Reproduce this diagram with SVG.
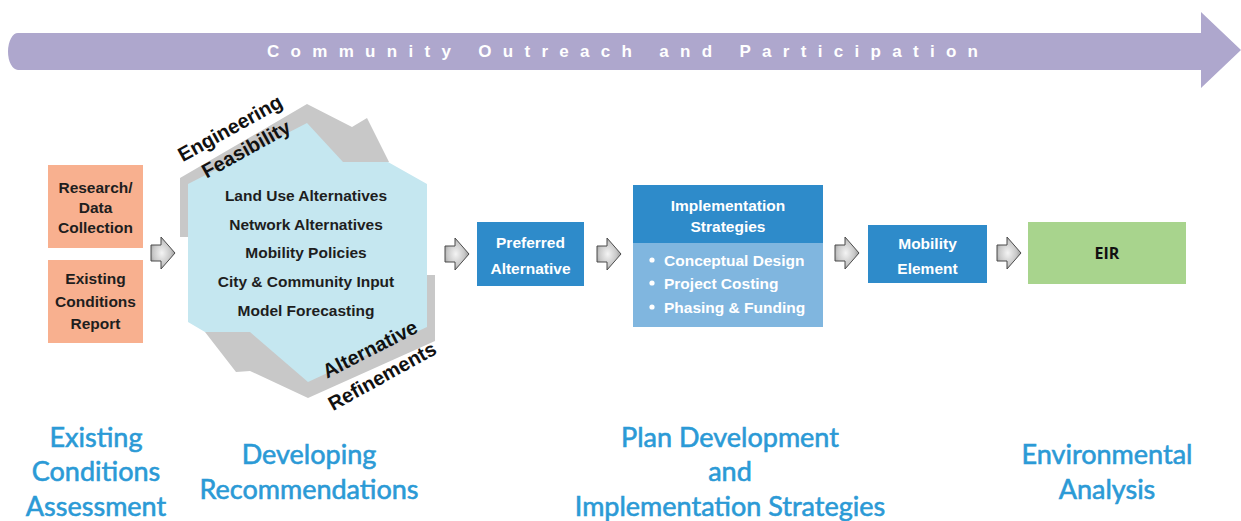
<svg xmlns="http://www.w3.org/2000/svg" width="1241" height="521" viewBox="0 0 1241 521">
<style>
.bt{font-family:"Liberation Sans",Arial,sans-serif;font-weight:bold;font-size:15.5px;text-anchor:middle;dominant-baseline:central}
.dk{fill:#1e1e1e}
.wh{fill:#ffffff}
.ttl{font-family:Lato,"Open Sans",sans-serif;font-size:27px;fill:#2b9ad6;stroke:#2b9ad6;stroke-width:0.6px;text-anchor:middle}
.arl{font-family:"Liberation Sans",Arial,sans-serif;font-weight:bold;font-size:20px;fill:#111;text-anchor:middle;dominant-baseline:central}
.blk{fill:url(#ag);stroke:#4a4a4a;stroke-width:1}
.st{text-anchor:start}
</style>
<defs>
<radialGradient id="ag" cx="0.45" cy="0.5" r="0.6">
<stop offset="0" stop-color="#f4f4f4"/>
<stop offset="0.6" stop-color="#c8c8c8"/>
<stop offset="1" stop-color="#8a8a8a"/>
</radialGradient>
<path id="blkarrow" class="blk" d="M0,-8 H10 V-16 L24,0 L10,16 V8 H0 Z"/>
</defs>
<rect width="1241" height="521" fill="#ffffff"/>

<g id="outreach">
<path d="M18,33 H1201 V12 L1241,50 L1201,88 V70 H18 A10 18.5 0 0 1 18,33 Z" fill="#aea7cd"/>
<text x="267" y="57" font-family="Liberation Sans,Arial,sans-serif" font-weight="bold" font-size="17" fill="#ffffff" textLength="711" lengthAdjust="spacing">Community Outreach and Participation</text>
</g>

<g id="research">
<rect x="48" y="165" width="95" height="83" fill="#f8b08f"/>
<text class="bt dk" x="95.5" y="187">Research/</text>
<text class="bt dk" x="95.5" y="207">Data</text>
<text class="bt dk" x="95.5" y="227">Collection</text>
</g>

<g id="existing-report">
<rect x="48" y="260" width="95" height="83" fill="#f8b08f"/>
<text class="bt dk" x="95.5" y="278">Existing</text>
<text class="bt dk" x="95.5" y="301">Conditions</text>
<text class="bt dk" x="95.5" y="323">Report</text>
</g>

<g id="alternatives-cycle">
<path d="M180,237 L180,178 L307,104 L352,127 L367,118 L389,162 L330,170 L200,237 Z" fill="#c8c8c8"/>
<path d="M427,275 L435,275 L435,341 L308,398 L250,371 L236,372 L205,332 L260,320 L420,270 Z" fill="#c8c8c8"/>
<path d="M188,184 L307,123 L343,162 L388,162 L427,184 L427,327 L308,382 L250,332 L205,332 L188,322 Z" fill="#c5e7f0"/>
<text class="bt dk" x="306" y="195">Land Use Alternatives</text>
<text class="bt dk" x="306" y="224">Network Alternatives</text>
<text class="bt dk" x="306" y="252">Mobility Policies</text>
<text class="bt dk" x="306" y="281">City &amp; Community Input</text>
<text class="bt dk" x="306" y="310">Model Forecasting</text>
<text class="arl" transform="translate(230,128) rotate(-29)">Engineering</text>
<text class="arl" transform="translate(246,149) rotate(-29)">Feasibility</text>
<text class="arl" transform="translate(370,349) rotate(-27)">Alternative</text>
<text class="arl" transform="translate(382,376) rotate(-29)">Refinements</text>
</g>

<g id="preferred">
<rect x="477" y="222" width="107" height="64" fill="#2e8bca"/>
<text class="bt wh" x="530.5" y="242">Preferred</text>
<text class="bt wh" x="530.5" y="268">Alternative</text>
</g>

<g id="implementation">
<rect x="633" y="185" width="190" height="58" fill="#2e8bca"/>
<rect x="633" y="243" width="190" height="84" fill="#80b6df"/>
<text class="bt wh" x="728" y="205" font-size="15">Implementation</text>
<text class="bt wh" x="728" y="226" font-size="15">Strategies</text>
<circle cx="652" cy="260" r="2.6" fill="#ffffff"/>
<circle cx="652" cy="283" r="2.6" fill="#ffffff"/>
<circle cx="652" cy="307" r="2.6" fill="#ffffff"/>
<text class="bt wh st" x="664" y="260">Conceptual Design</text>
<text class="bt wh st" x="664" y="283">Project Costing</text>
<text class="bt wh st" x="664" y="307">Phasing &amp; Funding</text>
</g>

<g id="mobility">
<rect x="868" y="225" width="119" height="58" fill="#2e8bca"/>
<text class="bt wh" x="927.5" y="243">Mobility</text>
<text class="bt wh" x="927.5" y="268">Element</text>
</g>

<g id="eir">
<rect x="1028" y="222" width="158" height="62" fill="#a8d48d"/>
<text x="1107" y="253" font-family="Open Sans,Liberation Sans,sans-serif" font-weight="bold" font-size="16" fill="#111" text-anchor="middle" dominant-baseline="central">EIR</text>
</g>

<g id="connectors">
<use href="#blkarrow" x="151" y="253"/>
<use href="#blkarrow" x="445" y="254"/>
<use href="#blkarrow" x="597" y="254"/>
<use href="#blkarrow" x="835" y="253"/>
<use href="#blkarrow" x="997" y="253"/>
</g>

<g id="phase-existing">
<text class="ttl" x="96" y="447">Existing</text>
<text class="ttl" x="96" y="481">Conditions</text>
<text class="ttl" x="96" y="516">Assessment</text>
</g>
<g id="phase-developing">
<text class="ttl" x="309" y="464">Developing</text>
<text class="ttl" x="309" y="499">Recommendations</text>
</g>
<g id="phase-plan">
<text class="ttl" x="730" y="447">Plan Development</text>
<text class="ttl" x="730" y="481">and</text>
<text class="ttl" x="730" y="516">Implementation Strategies</text>
</g>
<g id="phase-environmental">
<text class="ttl" x="1107" y="464">Environmental</text>
<text class="ttl" x="1107" y="499">Analysis</text>
</g>
</svg>
